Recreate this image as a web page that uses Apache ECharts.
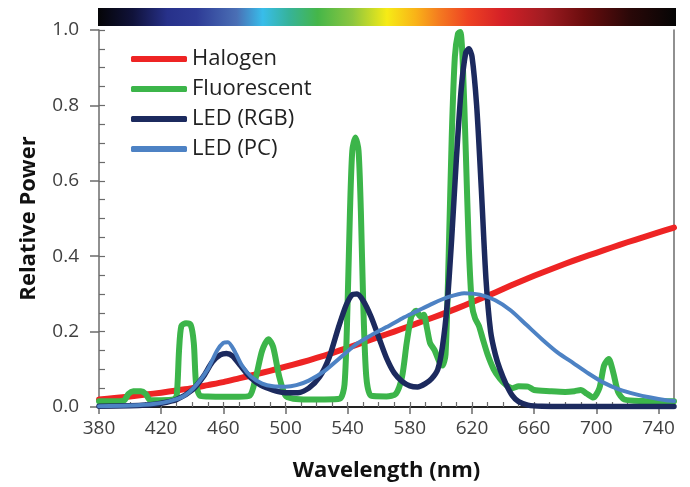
<!DOCTYPE html>
<html><head><meta charset="utf-8">
<script src="https://cdn.jsdelivr.net/npm/echarts@6/dist/echarts.min.js"></script>
<style>html,body{margin:0;padding:0;background:#fff}#c{width:690px;height:487px}</style>
</head><body><div id="c"></div>
<script>
const seriesNames = ['Halogen', 'Fluorescent', 'LED (RGB)', 'LED (PC)'];
const xMajorTicks = [380, 420, 460, 500, 540, 580, 620, 660, 700, 740];

const halogenWl  = [380,390,400,410,420,430,440,450,460,470,480,490,500,510,520,530,540,550,560,570,580,590,600,610,620,630,640,650,660,670,680,690,700,710,720,730,740,750];
const halogenVal = [0.020,0.024,0.028,0.033,0.038,0.044,0.050,0.058,0.066,0.076,0.086,0.096,0.107,0.118,0.130,0.143,0.157,0.171,0.186,0.200,0.215,0.230,0.245,0.261,0.278,0.295,0.313,0.331,0.348,0.364,0.380,0.395,0.409,0.423,0.437,0.450,0.463,0.476];

const fluorWl  = [380,390,396,399,402,407,410,413,420,428,430,431.5,433,436,439,441,442.5,445,450,460,470,477,481,485,489,492,496,500,505,515,525,535,538,540,541.5,543,545,547,548.5,550,552,555,565,571,575,578,581,584,587,589,591,593,596,599,601,603,605,607,609,611,612.5,614,616,618,620,622,624.5,627,630,634,638,642,646,650,656,660,670,680,686,690,694,698,702,705,708,711,714,718,730,750];
const fluorVal = [0.015,0.015,0.017,0.035,0.042,0.042,0.035,0.018,0.018,0.02,0.03,0.15,0.215,0.222,0.218,0.17,0.06,0.03,0.028,0.027,0.027,0.03,0.08,0.15,0.18,0.16,0.08,0.03,0.022,0.02,0.02,0.022,0.06,0.28,0.52,0.68,0.715,0.68,0.52,0.28,0.08,0.03,0.028,0.035,0.08,0.17,0.24,0.255,0.24,0.245,0.21,0.17,0.15,0.12,0.11,0.14,0.40,0.72,0.93,0.99,0.995,0.92,0.68,0.42,0.27,0.235,0.215,0.18,0.14,0.10,0.075,0.058,0.05,0.055,0.054,0.045,0.042,0.04,0.042,0.045,0.035,0.025,0.05,0.11,0.127,0.09,0.04,0.02,0.016,0.015];

const rgbWl  = [380,400,410,420,430,440,447,453,458,462,466,471,477,484,492,500,508,515,522,528,534,539,543,546,550,555,560,565,570,575,580,585,590,594,598,601,604,607,610,613,616,618,620,623,626,629,632,635,638,642,646,650,656,665,700,750];
const rgbVal = [0.002,0.003,0.005,0.01,0.02,0.045,0.08,0.12,0.138,0.142,0.135,0.11,0.08,0.058,0.045,0.038,0.038,0.05,0.08,0.13,0.21,0.27,0.298,0.30,0.282,0.24,0.185,0.13,0.09,0.068,0.056,0.053,0.062,0.075,0.1,0.16,0.27,0.45,0.66,0.84,0.94,0.95,0.93,0.80,0.58,0.34,0.2,0.14,0.1,0.06,0.03,0.014,0.005,0.002,0.001,0.001];

const pcWl  = [380,400,415,425,435,443,450,456,460,463,467,472,478,485,492,500,507,515,525,535,545,555,565,575,585,595,605,615,625,635,645,655,665,675,685,695,705,715,725,735,745,750];
const pcVal = [0.002,0.004,0.008,0.015,0.03,0.06,0.10,0.15,0.17,0.172,0.15,0.11,0.08,0.062,0.055,0.054,0.058,0.07,0.095,0.13,0.165,0.19,0.212,0.235,0.255,0.275,0.292,0.302,0.298,0.283,0.256,0.218,0.18,0.145,0.117,0.089,0.064,0.046,0.034,0.025,0.018,0.016];

const colors = ['#ee2424', '#3cb54a', '#1c2a5e', '#4d82c4'];
const widths = [6, 6, 5.5, 4];
const FONT = 'Open Sans';
const axisGray = '#6b6b6b';

function pairs(w, v) { return w.map((x, i) => [x, v[i]]); }
const minorX = []; for (let t = 380; t <= 750; t += 10) minorX.push(t);

const chart = echarts.init(document.getElementById('c'));
const data = [pairs(halogenWl, halogenVal), pairs(fluorWl, fluorVal), pairs(rgbWl, rgbVal), pairs(pcWl, pcVal)];

chart.setOption({
  animation: false,
  grid: { left: 99, right: 16, top: 30, bottom: 79 },
  legend: {
    orient: 'vertical', left: 131, top: 48, padding: 0, itemGap: 8,
    itemWidth: 56, itemHeight: 6, icon: 'roundRect', itemStyle: { borderWidth: 0 },
    textStyle: { fontFamily: FONT, fontSize: 22, color: '#222' },
    data: seriesNames
  },
  xAxis: [
    { type: 'value', min: 380, max: 750, position: 'bottom',
      axisLine: { lineStyle: { color: axisGray, width: 1.5 } },
      axisTick: { show: true, length: 7, customValues: xMajorTicks, lineStyle: { color: axisGray, width: 1.5 } },
      axisLabel: { customValues: xMajorTicks, fontFamily: FONT, fontSize: 19, color: '#404040', margin: 12 },
      splitLine: { show: false },
      name: 'Wavelength (nm)', nameLocation: 'middle', nameGap: 53,
      nameTextStyle: { fontFamily: FONT, fontSize: 22, fontWeight: 'bold', color: '#111' } },
    { type: 'value', min: 380, max: 750, position: 'bottom',
      axisLine: { show: false },
      axisTick: { show: true, inside: true, length: 5, customValues: minorX, lineStyle: { color: axisGray, width: 1.2 } },
      axisLabel: { show: false }, splitLine: { show: false } },
    { type: 'value', min: 380, max: 750, position: 'top',
      axisLine: { show: true, lineStyle: { color: '#222', width: 2 } },
      axisTick: { show: false }, axisLabel: { show: false }, splitLine: { show: false } }
  ],
  yAxis: [
    { type: 'value', min: 0, max: 1, interval: 0.2, position: 'left',
      axisLine: { show: true, lineStyle: { color: axisGray, width: 1.5 } },
      axisTick: { show: true, length: 9, lineStyle: { color: axisGray, width: 1.5 } },
      axisLabel: { formatter: v => v.toFixed(1), fontFamily: FONT, fontSize: 19, color: '#404040', margin: 20 },
      splitLine: { show: false },
      name: 'Relative Power', nameLocation: 'middle', nameGap: 59, nameRotate: 90,
      nameTextStyle: { fontFamily: FONT, fontSize: 22, fontWeight: 'bold', color: '#111' } },
    { type: 'value', min: 0, max: 1, interval: 0.05, position: 'left',
      axisLine: { show: false },
      axisTick: { show: true, inside: true, length: 6, lineStyle: { color: axisGray, width: 1.2 } },
      axisLabel: { show: false }, splitLine: { show: false } },
    { type: 'value', min: 0, max: 1, position: 'right',
      axisLine: { show: true, lineStyle: { color: axisGray, width: 1.5 } },
      axisTick: { show: false }, axisLabel: { show: false }, splitLine: { show: false } }
  ],
  series: seriesNames.map((n, i) => ({
    name: n, type: 'line', xAxisIndex: 0, yAxisIndex: 0,
    data: data[i], showSymbol: false, symbol: 'none', smooth: 0.25,
    lineStyle: { color: colors[i], width: widths[i], cap: 'round', join: 'round' },
    itemStyle: { color: colors[i] }, z: 2 + i
  })),
  graphic: [{
    type: 'rect', left: 98, top: 8, z: 10,
    shape: { width: 578, height: 18 },
    style: { fill: new echarts.graphic.LinearGradient(0, 0, 1, 0, [
      { offset: 0.00, color: '#050507' }, { offset: 0.06, color: '#10123a' },
      { offset: 0.12, color: '#27318a' }, { offset: 0.17, color: '#2e3b96' },
      { offset: 0.24, color: '#4a6fb5' }, { offset: 0.285, color: '#38bdea' },
      { offset: 0.33, color: '#36b39a' }, { offset: 0.38, color: '#45b649' },
      { offset: 0.44, color: '#8cc63f' }, { offset: 0.50, color: '#f6eb16' },
      { offset: 0.55, color: '#f9b218' }, { offset: 0.59, color: '#f47b20' },
      { offset: 0.64, color: '#ee4223' }, { offset: 0.70, color: '#d42027' },
      { offset: 0.77, color: '#a21c22' }, { offset: 0.84, color: '#6b0d0e' },
      { offset: 0.92, color: '#2a0808' }, { offset: 1.00, color: '#050505' }
    ]) }
  }]
});
</script></body></html>
